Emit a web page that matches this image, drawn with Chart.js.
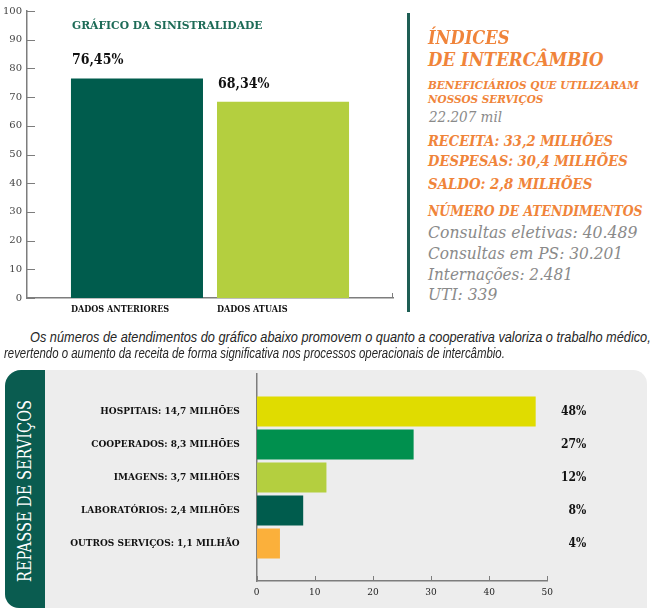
<!DOCTYPE html>
<html lang="pt-BR">
<head>
<meta charset="utf-8">
<title>Sinistralidade e Intercâmbio</title>
<script src="https://cdn.jsdelivr.net/npm/chart.js@4.4.1/dist/chart.umd.min.js"></script>
<style>
    html, body { margin: 0; padding: 0; background: #fff; }
    body { position: relative; width: 653px; height: 613px; overflow: hidden; font-family: 'DejaVu Serif', serif; }
    .t { position: absolute; white-space: nowrap; line-height: 1; transform-origin: 0 50%; }
    .serif-c { font-family: 'DejaVu Serif Condensed', 'DejaVu Serif', serif; }
    .laranja { color: #f0843a; font-weight: bold; font-style: italic; }
    .cinza { color: #8a8a8a; font-style: italic; }
    .texto { font-family: 'Liberation Sans Narrow', 'Liberation Sans', sans-serif; font-style: italic; color: #262626; font-size: 14px; }
    #graficoSinistralidade { position: absolute; left: 0; top: 0; }
    #graficoRepasse { position: absolute; left: 45px; top: 351px; }
    #painel { position: absolute; left: 5px; top: 370px; width: 642px; height: 238px; background: #ededed; border-radius: 16px 14px 0 14px; }
    #aba { position: absolute; left: 5px; top: 370px; width: 40px; height: 238px; background: #0a5c50; border-radius: 16px 0 0 14px; }
    #abaTexto { position: absolute; left: 25px; top: 491px; color: #fff; font-size: 18px; white-space: nowrap; line-height: 1; }
    #divisor { position: absolute; left: 407px; top: 13px; width: 3px; height: 299px; background: #1e5e54; }
</style>
</head>
<body>

<div id="painel"></div>
<div id="aba"></div>
<div id="abaTexto" class="serif-c" data-w="182" data-rot="1">REPASSE DE SERVIÇOS</div>

<canvas id="graficoSinistralidade" width="400" height="320"></canvas>
<canvas id="graficoRepasse" width="560" height="257"></canvas>

<div class="t serif-c" style="left:72px; top:19.5px; font-size:11.5px; font-weight:bold; color:#1d6b57;" data-w="191">GRÁFICO DA SINISTRALIDADE</div>

<div id="divisor"></div>

<div class="t serif-c laranja" style="left:428px; top:28px; font-size:19px;" data-w="81">ÍNDICES</div>
<div class="t serif-c laranja" style="left:428px; top:50px; font-size:19px;" data-w="176">DE INTERCÂMBIO</div>
<div class="t serif-c laranja" style="left:428px; top:79.5px; font-size:11.5px;" data-w="211">BENEFICIÁRIOS QUE UTILIZARAM</div>
<div class="t serif-c laranja" style="left:428px; top:93.5px; font-size:11.5px;" data-w="115">NOSSOS SERVIÇOS</div>
<div class="t serif-c cinza" style="left:429px; top:110.3px; font-size:14px;" data-w="73">22.207 mil</div>
<div class="t serif-c laranja" style="left:428px; top:133.8px; font-size:15px;" data-w="185">RECEITA: 33,2 MILHÕES</div>
<div class="t serif-c laranja" style="left:428px; top:153.8px; font-size:15px;" data-w="200">DESPESAS: 30,4 MILHÕES</div>
<div class="t serif-c laranja" style="left:428px; top:176.8px; font-size:15px;" data-w="164">SALDO: 2,8 MILHÕES</div>
<div class="t serif-c laranja" style="left:428px; top:203.8px; font-size:14px;" data-w="215">NÚMERO DE ATENDIMENTOS</div>
<div class="t serif-c cinza" style="left:428px; top:224.3px; font-size:17px;" data-w="209">Consultas eletivas: 40.489</div>
<div class="t serif-c cinza" style="left:428px; top:245.3px; font-size:17px;" data-w="195">Consultas em PS: 30.201</div>
<div class="t serif-c cinza" style="left:428px; top:266.3px; font-size:17px;" data-w="145">Internações: 2.481</div>
<div class="t serif-c cinza" style="left:428px; top:285.8px; font-size:17px;" data-w="69">UTI: 339</div>

<div class="t texto" style="left:30px; top:329.5px;" data-w="621">Os números de atendimentos do gráfico abaixo promovem o quanto a cooperativa valoriza o trabalho médico,</div>
<div class="t texto" style="left:4px; top:346px;" data-w="501">revertendo o aumento da receita de forma significativa nos processos operacionais de intercâmbio.</div>

<script>
// gráfico da sinistralidade
const sinistroCategorias = ['DADOS ANTERIORES', 'DADOS ATUAIS'];
const sinistroValores = [76.45, 68.34];
const sinistroEixoY = [0, 10, 20, 30, 40, 50, 60, 70, 80, 90, 100];
const sinistroCores = ['#005c4d', '#b4cf3f'];

// repasse de serviços
const repasseCategorias = [
    'HOSPITAIS: 14,7 MILHÕES',
    'COOPERADOS: 8,3 MILHÕES',
    'IMAGENS: 3,7 MILHÕES',
    'LABORATÓRIOS: 2,4 MILHÕES',
    'OUTROS SERVIÇOS: 1,1 MILHÃO'
];
const repasseValores = [48, 27, 12, 8, 4];
const repasseEixoX = [0, 10, 20, 30, 40, 50];
const repasseCores = ['#e0dc00', '#00904e', '#b4cf3f', '#005c4d', '#fbb03b'];

const corEixo = '#7d7d7d';

function formatarPercentual(valor) {
    return valor.toFixed(2).replace('.', ',') + '%';
}

// marcas de escala desenhadas para dentro da área do gráfico
const marcasInternas = {
    id: 'marcasInternas',
    afterDraw(chart, args, opts) {
        const {ctx, chartArea} = chart;
        ctx.save();
        ctx.strokeStyle = corEixo;
        ctx.lineWidth = 1;
        ctx.beginPath();
        if (opts.y) {
            chart.scales.y.ticks.forEach(t => {
                const py = Math.round(chart.scales.y.getPixelForValue(t.value)) + 0.5;
                ctx.moveTo(chartArea.left, py);
                ctx.lineTo(chartArea.left + opts.y, py);
            });
        }
        if (opts.x) {
            chart.scales.x.ticks.forEach(t => {
                const px = Math.round(chart.scales.x.getPixelForValue(t.value)) + 0.5;
                ctx.moveTo(px, chartArea.bottom);
                ctx.lineTo(px, chartArea.bottom - opts.x);
            });
        }
        if (opts.fim) {
            ctx.moveTo(chartArea.right - 0.5, chartArea.bottom);
            ctx.lineTo(chartArea.right - 0.5, chartArea.bottom - opts.fim);
        }
        ctx.stroke();
        ctx.restore();
    }
};

// rótulos de valor acima das colunas
const rotulosColunas = {
    id: 'rotulosColunas',
    afterDatasetsDraw(chart) {
        const {ctx} = chart;
        ctx.save();
        ctx.font = 'bold 14px "DejaVu Serif Condensed", "DejaVu Serif"';
        ctx.fillStyle = '#111';
        ctx.textBaseline = 'middle';
        chart.getDatasetMeta(0).data.forEach((barra, i) => {
            ctx.fillText(formatarPercentual(sinistroValores[i]), barra.x - barra.width / 2 + 1, barra.y - 18);
        });
        ctx.restore();
    }
};

new Chart(document.getElementById('graficoSinistralidade'), {
    type: 'bar',
    data: {
        datasets: [{
            data: sinistroValores.map((v, i) => ({x: i + 1, y: v})),
            backgroundColor: sinistroCores,
            barPercentage: 0.904,
            categoryPercentage: 1
        }]
    },
    options: {
        responsive: false,
        animation: false,
        layout: {padding: {top: 10, right: 7, left: 0, bottom: 0}},
        plugins: {
            legend: {display: false},
            tooltip: {enabled: false},
            marcasInternas: {y: 8, fim: 5}
        },
        scales: {
            x: {
                type: 'linear',
                offset: false,
                min: 0.247,
                max: 2.753,
                afterBuildTicks: s => { s.ticks = sinistroCategorias.map((c, i) => ({value: i + 1})); },
                afterFit: s => { s.height = 22; },
                grid: {display: false, drawTicks: false, offset: false},
                border: {color: corEixo, width: 1.5},
                ticks: {
                    callback: (v, i) => sinistroCategorias[i],
                    autoSkip: false,
                    maxRotation: 0,
                    align: 'start',
                    labelOffset: -66,
                    padding: 6,
                    color: '#111',
                    font: {family: '"DejaVu Serif Condensed", "DejaVu Serif"', size: 9, weight: 'bold'}
                }
            },
            y: {
                min: 0,
                max: 100,
                afterBuildTicks: s => { s.ticks = sinistroEixoY.map(v => ({value: v})); },
                afterFit: s => { s.width = 27; },
                grid: {display: false, drawTicks: false},
                border: {color: corEixo, width: 1.5},
                ticks: {
                    padding: 5,
                    color: '#444',
                    font: {family: '"DejaVu Serif"', size: 10}
                }
            }
        }
    },
    plugins: [marcasInternas, rotulosColunas]
});

const limitesRepasse = {min: -1.136, max: repasseCategorias.length - 1 + 1.136};

new Chart(document.getElementById('graficoRepasse'), {
    type: 'bar',
    data: {
        datasets: [{
            data: repasseValores.map((v, i) => ({x: v, y: i})),
            backgroundColor: repasseCores,
            barPercentage: 0.91,
            categoryPercentage: 1
        }]
    },
    options: {
        indexAxis: 'y',
        responsive: false,
        animation: false,
        layout: {padding: {top: 10, right: 18.7, left: 0, bottom: 0}},
        plugins: {
            legend: {display: false},
            tooltip: {enabled: false},
            marcasInternas: {x: 5}
        },
        scales: {
            x: {
                type: 'linear',
                min: 0,
                max: 50,
                afterBuildTicks: s => { s.ticks = repasseEixoX.map(v => ({value: v})); },
                afterFit: s => { s.height = 27; },
                grid: {display: false, drawTicks: false},
                border: {color: corEixo, width: 1.5},
                ticks: {
                    padding: 6,
                    color: '#222',
                    font: {family: '"DejaVu Serif"', size: 9}
                }
            },
            y: {
                type: 'linear',
                offset: false,
                reverse: true,
                min: limitesRepasse.min,
                max: limitesRepasse.max,
                afterBuildTicks: s => { s.ticks = repasseCategorias.map((c, i) => ({value: i})); },
                afterFit: s => { s.width = 211.7; },
                grid: {display: false, drawTicks: false, offset: false},
                border: {color: corEixo, width: 1.5},
                ticks: {
                    callback: (v, i) => repasseCategorias[i],
                    autoSkip: false,
                    padding: 17,
                    color: '#111',
                    font: {family: '"DejaVu Serif Condensed", "DejaVu Serif"', size: 10, weight: 'bold'}
                }
            },
            percentual: {
                type: 'linear',
                offset: false,
                position: 'right',
                reverse: true,
                min: limitesRepasse.min,
                max: limitesRepasse.max,
                afterBuildTicks: s => { s.ticks = repasseValores.map((v, i) => ({value: i})); },
                afterFit: s => { s.width = 39; },
                grid: {display: false, drawTicks: false},
                border: {display: false},
                ticks: {
                    callback: (v, i) => repasseValores[i] + '%',
                    autoSkip: false,
                    crossAlign: 'far',
                    color: '#111',
                    font: {family: '"DejaVu Serif Condensed", "DejaVu Serif"', size: 12, weight: 'bold'}
                }
            }
        }
    },
    plugins: [marcasInternas]
});

// ajusta a largura dos textos à medida da arte original
function ajustarLarguras() {
    document.querySelectorAll('[data-w]').forEach(el => {
        const k = parseFloat(el.dataset.w) / el.offsetWidth;
        if (el.dataset.rot) {
            el.style.transform = 'translate(-50%, -50%) rotate(-90deg) scale(' + k + ', 1)';
        } else {
            el.style.transform = 'scaleX(' + k + ')';
        }
    });
}

document.fonts.ready.then(ajustarLarguras);
</script>
</body>
</html>
